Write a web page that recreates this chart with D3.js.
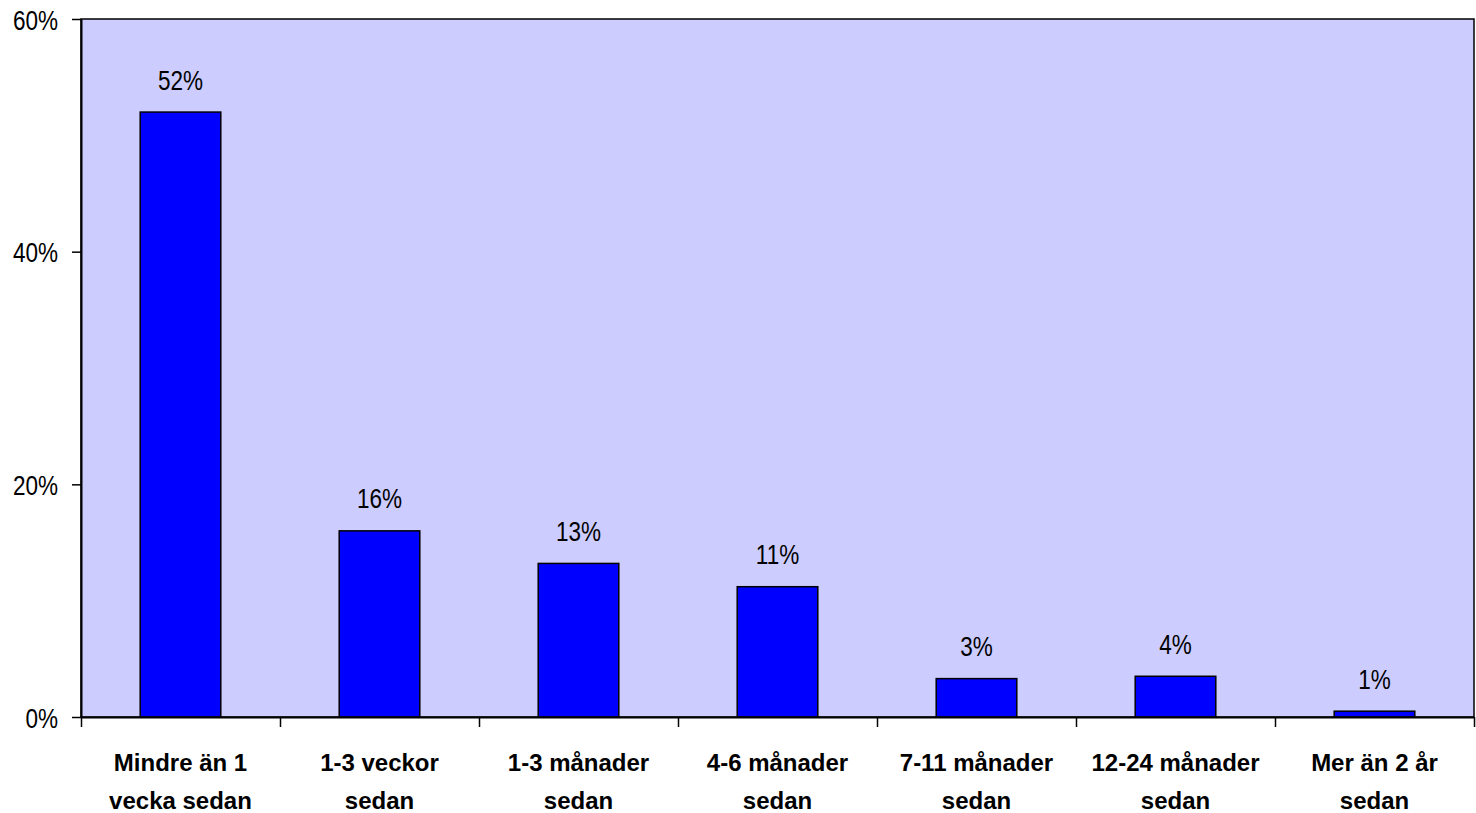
<!DOCTYPE html>
<html><head><meta charset="utf-8">
<script src="https://cdn.jsdelivr.net/npm/d3@7"></script>
<style>
html,body{margin:0;padding:0;background:#fff;}
svg{display:block;}
text{font-family:"Liberation Sans",Arial,sans-serif;fill:#000;}
</style></head>
<body><svg id="c" width="1476" height="813"></svg>
<script>
const categories = [
  ["Mindre än 1","vecka sedan"],
  ["1-3 veckor","sedan"],
  ["1-3 månader","sedan"],
  ["4-6 månader","sedan"],
  ["7-11 månader","sedan"],
  ["12-24 månader","sedan"],
  ["Mer än 2 år","sedan"]
];
const values = [52, 16, 13.2, 11.2, 3.3, 3.5, 0.5];
const valueLabels = ["52%","16%","13%","11%","3%","4%","1%"];
const yTicks = [0, 20, 40, 60];
const yTickLabels = ["0%","20%","40%","60%"];

const svg = d3.select("#c");
const m = {left:81, top:19, right:1474, bottom:717};
const narrow = 0.79;
const numSize = 28.5;
const x = d3.scaleBand().domain(d3.range(categories.length)).range([m.left, m.right]).paddingInner(0.595).paddingOuter(0.2975);
const y = d3.scaleLinear().domain([0,60]).range([m.bottom, m.top]);

svg.append("rect").attr("x",m.left).attr("y",m.top).attr("width",m.right-m.left).attr("height",m.bottom-m.top)
  .attr("fill","#CCCCFF").attr("stroke","#000").attr("stroke-width",1.5);

svg.selectAll("rect.bar").data(values).join("rect").attr("class","bar")
  .attr("x",(d,i)=>x(i)).attr("width",x.bandwidth())
  .attr("y",d=>y(d)).attr("height",d=>y(0)-y(d))
  .attr("fill","#0000FF").attr("stroke","#000").attr("stroke-width",1.5);

svg.selectAll("text.vl").data(values).join("text").attr("class","vl")
  .attr("transform",(d,i)=>`translate(${x(i)+x.bandwidth()/2},${y(d)-22.5}) scale(${narrow},1)`)
  .attr("text-anchor","middle").attr("font-size",numSize)
  .text((d,i)=>valueLabels[i]);

// y axis
const yAxis = d3.axisLeft(y).tickValues(yTicks).tickFormat((d,i)=>yTickLabels[i]).tickSize(9).tickSizeOuter(0);
const ga = svg.append("g").attr("transform",`translate(${m.left},0)`).call(yAxis);
ga.select(".domain").attr("stroke","#000").attr("stroke-width",2);
ga.selectAll(".tick line").attr("stroke","#000").attr("stroke-width",1.5);
ga.selectAll(".tick text").attr("font-size",numSize).attr("font-family",null)
  .attr("x",0).attr("dy","0.36em").attr("transform",`translate(-23,0) scale(${narrow},1)`);

// x axis baseline + ticks between categories
const bx = d3.scaleLinear().domain([0,categories.length]).range([m.left,m.right]);
const xAxis = d3.axisBottom(bx).tickValues(d3.range(categories.length+1)).tickFormat("").tickSize(10).tickSizeOuter(0);
const gx = svg.append("g").attr("transform",`translate(0,${m.bottom})`).call(xAxis);
gx.select(".domain").attr("stroke","#000").attr("stroke-width",2);
gx.selectAll(".tick line").attr("stroke","#000").attr("stroke-width",1.5);

const cl = svg.selectAll("text.cl").data(categories).join("text").attr("class","cl")
  .attr("text-anchor","middle").attr("font-size",24).attr("font-weight","bold");
cl.each(function(d,i){
  const t = d3.select(this);
  d.forEach((line,j)=>{
    t.append("tspan").attr("x",x(i)+x.bandwidth()/2).attr("y",770.5+j*38.5).text(line);
  });
});
</script></body></html>
